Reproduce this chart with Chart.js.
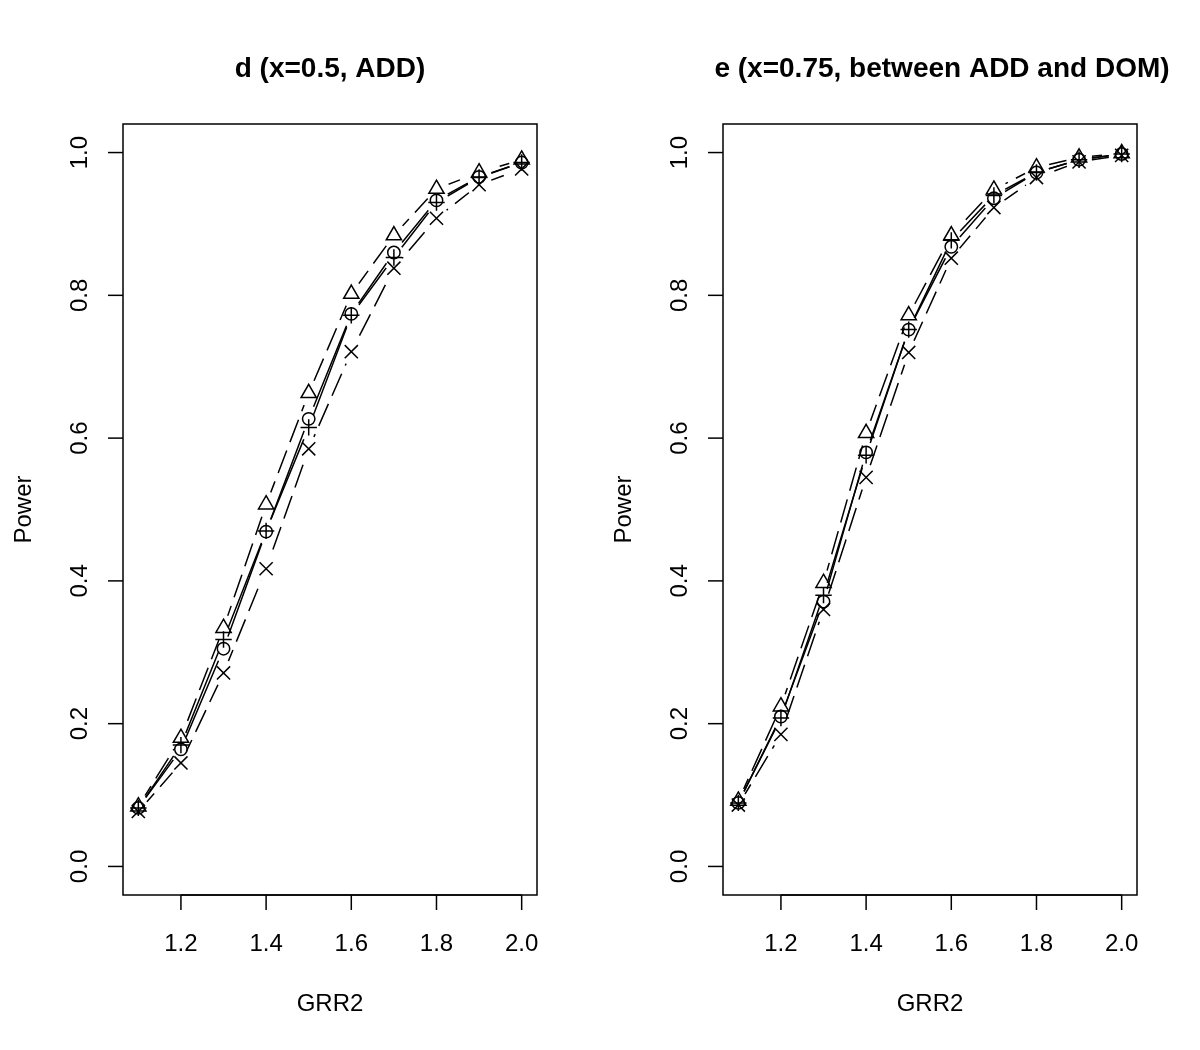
<!DOCTYPE html>
<html>
<head>
<meta charset="utf-8">
<script src="https://cdn.jsdelivr.net/npm/chart.js@4/dist/chart.umd.min.js"></script>
<style>
    body { margin: 0; background: #fff; }
    #wrap { position: relative; width: 1200px; height: 1050px; }
    canvas { position: absolute; top: 0; }
    #leftChart { left: 0; }
    #rightChart { left: 600px; }
</style>
</head>
<body>
<div id="wrap">
    <canvas id="leftChart" width="600" height="1050"></canvas>
    <canvas id="rightChart" width="600" height="1050"></canvas>
</div>
<script>
const grr2 = [1.1, 1.2, 1.3, 1.4, 1.5, 1.6, 1.7, 1.8, 1.9, 2.0];
const xTicks = [1.2, 1.4, 1.6, 1.8, 2.0];
const yTicks = [0.0, 0.2, 0.4, 0.6, 0.8, 1.0];

// panel d (x=0.5, ADD)
const dTriangle = [0.084, 0.180, 0.334, 0.507, 0.663, 0.802, 0.884, 0.949, 0.972, 0.990];
const dCircle = [0.082, 0.164, 0.305, 0.469, 0.627, 0.774, 0.860, 0.933, 0.966, 0.986];
const dPlus = [0.082, 0.170, 0.318, 0.470, 0.615, 0.772, 0.853, 0.930, 0.965, 0.986];
const dCross = [0.077, 0.145, 0.271, 0.417, 0.585, 0.721, 0.838, 0.908, 0.955, 0.977];

// panel e (x=0.75, between ADD and DOM)
const eTriangle = [0.092, 0.224, 0.397, 0.607, 0.772, 0.884, 0.948, 0.979, 0.993, 0.999];
const eCircle = [0.089, 0.210, 0.371, 0.580, 0.752, 0.868, 0.936, 0.972, 0.990, 0.998];
const ePlus = [0.089, 0.208, 0.380, 0.576, 0.752, 0.877, 0.940, 0.972, 0.990, 0.998];
const eCross = [0.086, 0.185, 0.360, 0.545, 0.720, 0.852, 0.923, 0.965, 0.987, 0.996];

const FONT = '"Liberation Sans", Arial, Helvetica, sans-serif';
const GAP = 13;

const styles = [
    { key: "triangle", pointStyle: "triangle", radius: 8.8, dash: [24, 9] },
    { key: "circle", pointStyle: "circle", radius: 6.2, dash: [] },
    { key: "plus", pointStyle: "cross", radius: 8.2, dash: [] },
    { key: "cross", pointStyle: "crossRot", radius: 9.3, dash: [24, 9] }
];

function buildDatasets(series) {
    const lines = series.map((values, i) => ({
        data: values.map((v, j) => ({ x: grr2[j], y: v })),
        showLine: true, gapLine: true, borderColor: "#000", borderWidth: 1.5,
        borderDash: styles[i].dash, pointRadius: 0, fill: false
    }));
    const marks = series.map((values, i) => ({
        data: values.map((v, j) => ({ x: grr2[j], y: v })),
        showLine: false, pointStyle: styles[i].pointStyle, pointRadius: styles[i].radius,
        pointBorderColor: "#000", pointBackgroundColor: "rgba(0,0,0,0)", pointBorderWidth: 1.5, clip: false
    }));
    return lines.concat(marks);
}

// R type="b": line segments stop short of each point
const gapPlugin = {
    id: "gapPlugin",
    beforeDatasetDraw(chart, args) {
        if (!chart.data.datasets[args.index].gapLine) return;
        const ctx = chart.ctx;
        ctx.save();
        ctx.beginPath();
        ctx.rect(0, 0, chart.width, chart.height);
        args.meta.data.forEach((pt) => { ctx.moveTo(pt.x + GAP, pt.y); ctx.arc(pt.x, pt.y, GAP, 0, Math.PI * 2); });
        ctx.clip("evenodd");
    },
    afterDatasetDraw(chart, args) {
        if (chart.data.datasets[args.index].gapLine) chart.ctx.restore();
    }
};

// base-graphics style frame, axes and labels
const framePlugin = {
    id: "framePlugin",
    afterDraw(chart) {
        const { ctx, chartArea: a, scales } = chart;
        const o = chart.options.plugins.framePlugin;
        ctx.save();
        ctx.strokeStyle = "#000";
        ctx.fillStyle = "#000";
        ctx.lineWidth = 1.5;
        ctx.strokeRect(a.left, a.top, a.right - a.left, a.bottom - a.top);
        ctx.font = `24px ${FONT}`;
        ctx.textAlign = "center";
        ctx.textBaseline = "alphabetic";
        xTicks.forEach((t) => {
            const x = scales.x.getPixelForValue(t);
            ctx.beginPath(); ctx.moveTo(x, a.bottom); ctx.lineTo(x, a.bottom + 15); ctx.stroke();
            ctx.fillText(t.toFixed(1), x, a.bottom + 56);
        });
        ctx.beginPath();
        ctx.moveTo(scales.x.getPixelForValue(xTicks[0]), a.bottom);
        ctx.lineTo(scales.x.getPixelForValue(xTicks[xTicks.length - 1]), a.bottom);
        ctx.stroke();
        yTicks.forEach((t) => {
            const y = scales.y.getPixelForValue(t);
            ctx.beginPath(); ctx.moveTo(a.left, y); ctx.lineTo(a.left - 15, y); ctx.stroke();
            ctx.save(); ctx.translate(a.left - 36, y); ctx.rotate(-Math.PI / 2);
            ctx.fillText(t.toFixed(1), 0, 0); ctx.restore();
        });
        const cx = (a.left + a.right) / 2;
        ctx.fillText("GRR2", cx, a.bottom + 116);
        ctx.save(); ctx.translate(a.left - 92, (a.top + a.bottom) / 2); ctx.rotate(-Math.PI / 2);
        ctx.fillText("Power", 0, 0); ctx.restore();
        ctx.font = `bold 28px ${FONT}`;
        ctx.fillText(o.title, cx + (o.titleShift || 0), 77);
        ctx.restore();
    }
};

function makeChart(id, title, titleShift, series) {
    return new Chart(document.getElementById(id), {
        type: "scatter",
        data: { datasets: buildDatasets(series) },
        options: {
            responsive: false, animation: false, devicePixelRatio: 1,
            layout: { padding: { left: 123, right: 63, top: 124, bottom: 155 } },
            scales: {
                x: { type: "linear", display: false, min: 1.064, max: 2.036 },
                y: { type: "linear", display: false, min: -0.04, max: 1.04 }
            },
            plugins: { legend: { display: false }, tooltip: { enabled: false }, framePlugin: { title, titleShift } }
        },
        plugins: [gapPlugin, framePlugin]
    });
}

makeChart("leftChart", "d (x=0.5, ADD)", 0, [dTriangle, dCircle, dPlus, dCross]);
makeChart("rightChart", "e (x=0.75, between ADD and DOM)", 12, [eTriangle, eCircle, ePlus, eCross]);
</script>
</body>
</html>
